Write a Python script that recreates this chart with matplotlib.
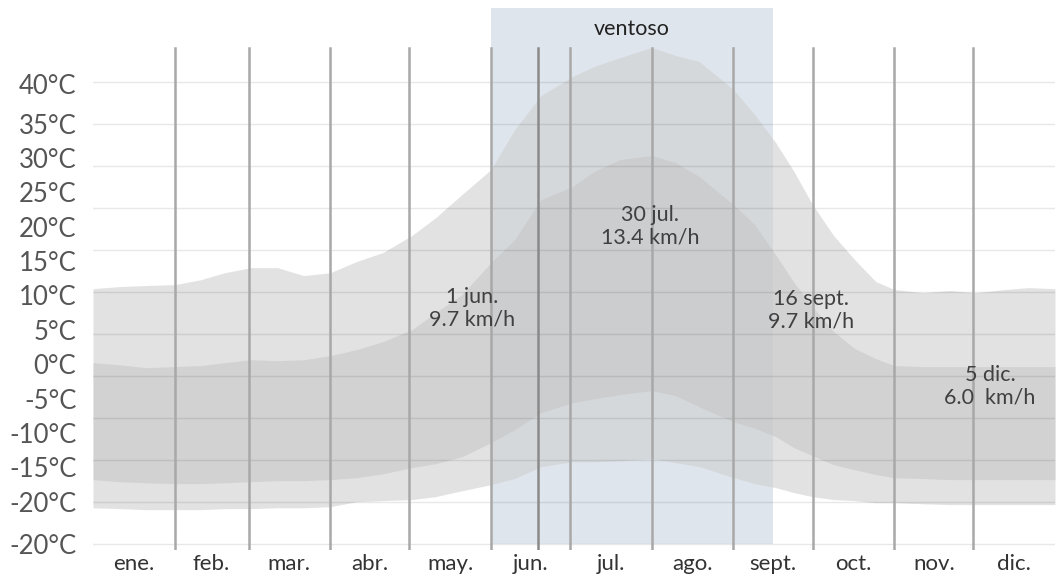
import matplotlib
matplotlib.use("Agg")
import matplotlib.pyplot as plt

# day of year -> wind speed percentiles (km/h)
days = [0, 10, 20, 31, 41, 50, 60, 70, 80, 90, 100, 110, 121, 130, 140,
        151, 160, 170, 182, 190, 200, 212, 221, 230, 243, 251, 259, 266,
        273, 281, 289, 297, 304, 315, 325, 335, 346, 355, 365]
p90 = [12.14, 12.24, 12.29, 12.33, 12.57, 12.90, 13.14, 13.14, 12.76, 12.90,
       13.43, 13.86, 14.67, 15.52, 16.62, 17.81, 19.71, 21.33, 22.24, 22.71,
       23.14, 23.62, 23.24, 22.95, 21.62, 20.43, 19.10, 17.71, 16.14, 14.67,
       13.52, 12.48, 12.10, 11.95, 12.05, 11.95, 12.10, 12.19, 12.14]
p75 = [8.62, 8.52, 8.38, 8.43, 8.48, 8.62, 8.76, 8.71, 8.76, 8.95,
       9.24, 9.62, 10.19, 11.00, 11.86, 13.38, 14.48, 16.38, 17.00, 17.71,
       18.29, 18.48, 18.14, 17.48, 16.14, 15.19, 13.76, 12.43, 11.29, 10.10,
       9.29, 8.81, 8.48, 8.43, 8.43, 8.43, 8.43, 8.43, 8.43]
p25 = [3.05, 2.95, 2.90, 2.86, 2.86, 2.90, 2.95, 3.00, 3.00, 3.05,
       3.14, 3.33, 3.62, 3.81, 4.14, 4.81, 5.43, 6.24, 6.71, 6.90,
       7.10, 7.29, 7.05, 6.52, 5.80, 5.50, 5.10, 4.57, 4.19, 3.76,
       3.52, 3.29, 3.14, 3.10, 3.05, 3.05, 3.05, 3.05, 3.05]
p10 = [1.71, 1.67, 1.62, 1.62, 1.62, 1.67, 1.67, 1.71, 1.71, 1.76,
       2.00, 2.05, 2.10, 2.24, 2.52, 2.81, 3.10, 3.67, 3.90, 3.90,
       3.95, 4.05, 3.86, 3.67, 3.15, 2.86, 2.67, 2.43, 2.24, 2.10,
       2.05, 1.95, 1.95, 1.90, 1.86, 1.86, 1.86, 1.86, 1.86]

month_starts = [0, 31, 59, 90, 120, 151, 181, 212, 243, 273, 304, 334, 365]
month_names = ["ene.", "feb.", "mar.", "abr.", "may.", "jun.",
               "jul.", "ago.", "sept.", "oct.", "nov.", "dic."]
windy_start, windy_end = 151, 258
marker_day = 169

ytick_pos = [21.86, 20.0, 18.36, 16.73, 15.09, 13.45, 11.82,
             10.18, 8.55, 6.91, 5.27, 3.64, 2.0, 0.0]
ytick_labels = ["40°C", "35°C", "30°C", "25°C", "20°C", "15°C", "10°C",
                "5°C", "0°C", "-5°C", "-10°C", "-15°C", "-20°C", "-20°C"]

# (x day, y km/h, text)
notes = [(143.8, 11.2, "1 jun.\n9.7 km/h"),
         (211.3, 15.1, "30 jul.\n13.4 km/h"),
         (272.4, 11.1, "16 sept.\n9.7 km/h"),
         (340.3, 7.5, "5 dic.\n6.0  km/h")]

plt.rcParams["font.family"] = ["Lato", "DejaVu Sans"]

fig = plt.figure(figsize=(10.58, 5.76), dpi=100)
ax = fig.add_axes([93 / 1058, 1 - 550 / 576, 962 / 1058, 542 / 576])
ymax = 25.5
ax.set_xlim(0, 365)
ax.set_ylim(-0.3, ymax)
for s in ax.spines.values():
    s.set_visible(False)

# windy season behind everything
ax.fill_between([windy_start, windy_end], 0, ymax, color="#dee5ec",
                lw=0, zorder=0)
ax.text((windy_start + windy_end) / 2, 24.5, "ventoso", ha="center",
        va="center", fontsize=15.5, color="#222222")

# percentile bands (semi-transparent so the blue shows through)
ax.fill_between(days, p10, p90, color="#d0d0d0", alpha=0.6, lw=0, zorder=1)
ax.fill_between(days, p25, p75, color="#c1c1c1", alpha=0.47, lw=0, zorder=2)

# grid
for g in range(0, 23, 2):
    ax.axhline(g, color="#000000", alpha=0.09, lw=1, zorder=4)
for d in month_starts[1:-1]:
    ax.plot([d, d], [-0.3, 23.6], color="#a8a8a8", lw=1.8, zorder=5)
ax.plot([marker_day, marker_day], [-0.3, 23.6], color="#8a8a8a", lw=1.8,
        zorder=5)

for x, y, t in notes:
    ax.text(x, y, t, ha="center", va="center", fontsize=15.5,
            color="#404040", linespacing=1.15, zorder=6)

mids = [(a + b) / 2 for a, b in zip(month_starts[:-1], month_starts[1:])]
ax.set_xticks(mids, month_names)
ax.set_yticks(ytick_pos, ytick_labels)
ax.tick_params(axis="x", length=0, pad=3, labelsize=16, labelcolor="#333333")
ax.tick_params(axis="y", length=0, pad=12, labelsize=18.5, labelcolor="#555555")

fig.savefig("out.png", dpi=100)
